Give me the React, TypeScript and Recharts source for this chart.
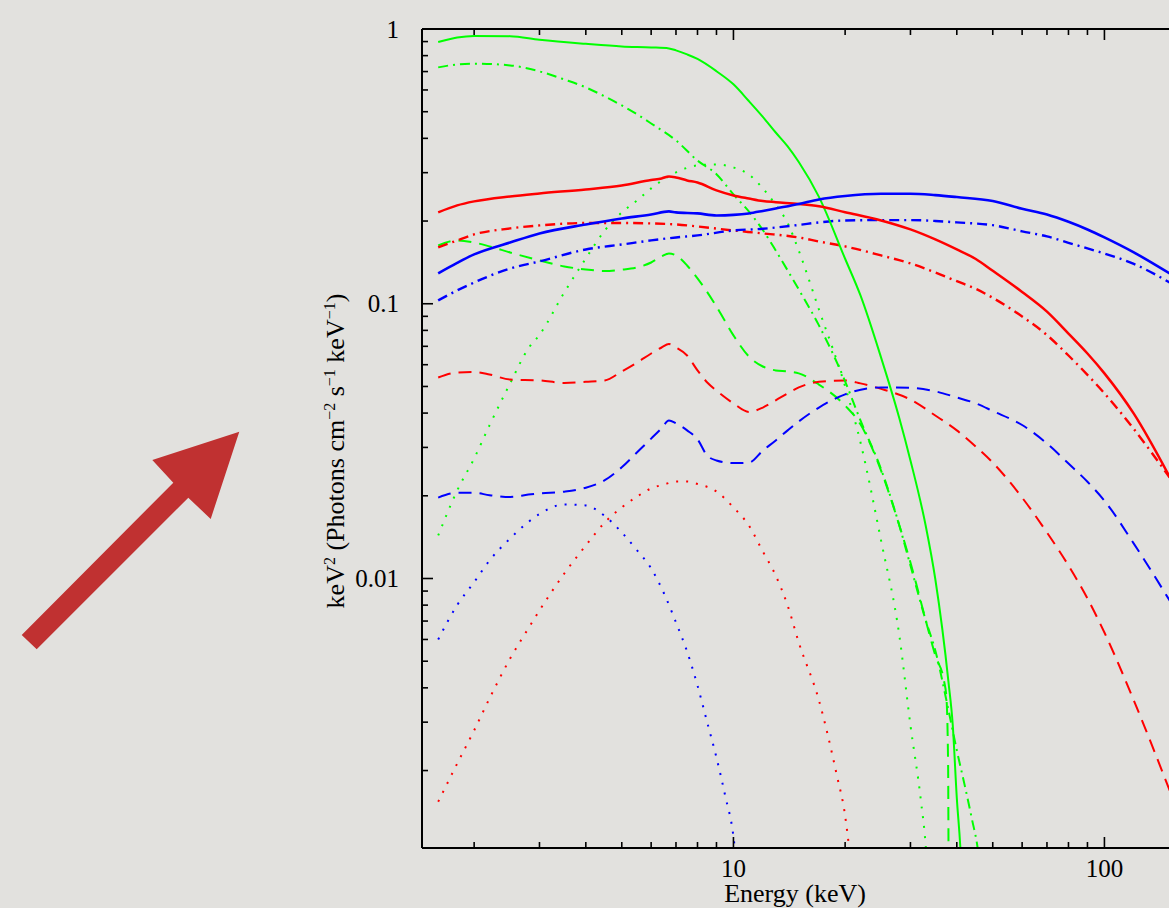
import { LineChart, Line, XAxis, YAxis } from 'recharts';

const GREEN = '#00ff00';
const RED = '#ff0000';
const BLUE = '#0000ff';
const FONT = '"Liberation Serif", "Times New Roman", serif';

const X_DOMAIN = [1.447, 149.3];
const Y_DOMAIN = [0.001045, 1];
const X_TICKS = [2, 3, 4, 5, 6, 7, 8, 9, 10, 20, 30, 40, 50, 60, 70, 80, 90, 100];
const Y_TICKS = [
  0.002, 0.003, 0.004, 0.005, 0.006, 0.007, 0.008, 0.009, 0.01,
  0.02, 0.03, 0.04, 0.05, 0.06, 0.07, 0.08, 0.09, 0.1,
  0.2, 0.3, 0.4, 0.5, 0.6, 0.7, 0.8, 0.9, 1,
];

// green
const E_GREEN_SOLID = [1.6, 1.8, 2, 2.5, 3, 4, 5, 6, 6.7, 7, 7.5, 8, 9, 10, 11, 12, 13, 14, 15, 17, 20, 22, 25, 28, 30, 33, 35, 38, 39, 40, 41, 42];
const V_GREEN_SOLID = [0.897, 0.932, 0.944, 0.942, 0.914, 0.883, 0.864, 0.857, 0.85, 0.836, 0.808, 0.778, 0.702, 0.629, 0.547, 0.479, 0.42, 0.374, 0.328, 0.245, 0.1458, 0.1072, 0.0637, 0.0383, 0.0269, 0.0155, 0.00996, 0.00418, 0.00294, 0.00159, 0.00098, 0.0004];

const E_GREEN_DASHDOT = [1.6, 1.8, 2, 2.5, 3, 3.5, 4, 4.5, 5, 5.5, 6, 7, 8, 9, 10, 11, 12, 13, 14, 15, 17, 20, 22, 25, 28, 30, 33, 35, 38, 40, 42, 44, 45.5, 47];
const V_GREEN_DASHDOT = [0.725, 0.743, 0.748, 0.737, 0.701, 0.655, 0.613, 0.568, 0.527, 0.489, 0.453, 0.393, 0.332, 0.296, 0.25, 0.2168, 0.1856, 0.1563, 0.1322, 0.1127, 0.0834, 0.0522, 0.0376, 0.025, 0.0156, 0.01115, 0.00703, 0.00547, 0.00331, 0.00237, 0.00177, 0.00132, 0.00105, 0.0007];

const E_GREEN_DASHED = [1.6, 1.8, 2, 2.2, 2.5, 3, 3.5, 4, 4.5, 5, 5.5, 6, 6.4, 6.7, 7, 7.5, 8, 9, 10, 11, 12, 13, 14, 15, 17, 20, 22, 25, 28, 30, 33, 35, 37, 37.5, 37.9, 38, 38.3];
const V_GREEN_DASHED = [0.163, 0.17, 0.167, 0.1617, 0.1537, 0.1437, 0.1367, 0.1333, 0.1316, 0.133, 0.1356, 0.1413, 0.1487, 0.1525, 0.1499, 0.1378, 0.1237, 0.0977, 0.0767, 0.0643, 0.0591, 0.0572, 0.0567, 0.0558, 0.0508, 0.0426, 0.0364, 0.0247, 0.0156, 0.01144, 0.00703, 0.00525, 0.0042, 0.0037, 0.0021, 0.001, 0.0004];

const E_GREEN_DOTTED = [1.6, 1.8, 2, 2.2, 2.5, 2.8, 3, 3.5, 4, 4.5, 5, 5.5, 6, 7, 8, 9, 10, 11, 12, 13, 14, 15, 17, 20, 22, 25, 28, 30, 32, 33, 34];
const V_GREEN_DOTTED = [0.01434, 0.0209, 0.02734, 0.0361, 0.0513, 0.0688, 0.077, 0.11, 0.1462, 0.1848, 0.215, 0.2377, 0.263, 0.3006, 0.3188, 0.3214, 0.3134, 0.2956, 0.263, 0.229, 0.1965, 0.156, 0.0953, 0.05, 0.0313, 0.01374, 0.0062, 0.00292, 0.00156, 0.00105, 0.0005];

// red
const E_RED_SOLID = [1.6, 1.8, 2, 2.5, 3, 4, 5, 6, 6.4, 6.7, 7, 7.5, 8, 9, 10, 11, 12, 13, 15, 17, 20, 25, 30, 35, 40, 45, 50, 60, 70, 80, 90, 100, 120, 150];
const V_RED_SOLID = [0.215, 0.228, 0.2358, 0.2458, 0.252, 0.2607, 0.2696, 0.2823, 0.2858, 0.2907, 0.2883, 0.2811, 0.2763, 0.2585, 0.2478, 0.2416, 0.2366, 0.2343, 0.2308, 0.2263, 0.2153, 0.201, 0.1864, 0.1714, 0.1576, 0.1455, 0.1318, 0.1104, 0.0936, 0.0779, 0.0659, 0.0558, 0.0398, 0.0234];

const E_RED_DASHDOT = [1.6, 1.8, 2, 2.5, 3, 4, 5, 6, 7, 8, 10, 12, 15, 17, 20, 25, 30, 35, 40, 45, 50, 60, 70, 80, 90, 100, 120, 150];
const V_RED_DASHDOT = [0.1603, 0.17, 0.1788, 0.188, 0.1928, 0.1968, 0.1968, 0.196, 0.1944, 0.1911, 0.1848, 0.1803, 0.1743, 0.1685, 0.1617, 0.1499, 0.1402, 0.13, 0.1208, 0.1133, 0.1051, 0.0899, 0.0769, 0.0648, 0.0551, 0.0472, 0.035, 0.0233];

const E_RED_DASHED = [1.6, 1.8, 2, 2.2, 2.5, 3, 3.5, 4, 4.5, 5, 5.5, 6, 6.4, 6.7, 7, 7.5, 8, 8.5, 9, 10, 11, 12, 13, 14, 15, 17, 20, 22, 25, 30, 35, 40, 45, 50, 60, 70, 80, 90, 100, 120, 150];
const V_RED_DASHED = [0.0539, 0.0562, 0.0564, 0.0553, 0.053, 0.0526, 0.0515, 0.052, 0.0526, 0.0567, 0.0611, 0.0659, 0.0693, 0.0714, 0.0693, 0.0648, 0.0572, 0.0517, 0.0483, 0.0434, 0.0404, 0.0419, 0.0445, 0.0472, 0.0496, 0.052, 0.0526, 0.0513, 0.049, 0.0448, 0.0392, 0.0346, 0.0302, 0.0264, 0.0197, 0.0147, 0.01115, 0.00846, 0.00636, 0.0036, 0.00169];

const E_RED_DOTTED = [1.6, 1.8, 2, 2.2, 2.5, 2.8, 3, 3.5, 4, 4.5, 5, 5.5, 6, 6.5, 7, 7.5, 8, 9, 10, 11, 12, 13, 14, 15, 17, 19, 20, 20.5, 21];
const V_RED_DOTTED = [0.00154, 0.00212, 0.0028, 0.00366, 0.00511, 0.00658, 0.00765, 0.01043, 0.01319, 0.016, 0.01814, 0.01988, 0.02127, 0.022, 0.02254, 0.02254, 0.02208, 0.02074, 0.01814, 0.0156, 0.01254, 0.01025, 0.00797, 0.00585, 0.0036, 0.00192, 0.00137, 0.00105, 0.0008];

// blue
const E_BLUE_SOLID = [1.6, 1.8, 2, 2.5, 3, 4, 5, 6, 6.7, 7, 8, 9, 10, 11, 12, 13, 15, 17, 20, 25, 30, 35, 40, 50, 60, 70, 80, 90, 100, 120, 150];
const V_BLUE_SOLID = [0.129, 0.1408, 0.1512, 0.1671, 0.1803, 0.1944, 0.2044, 0.2114, 0.2168, 0.215, 0.2132, 0.2096, 0.2106, 0.2132, 0.2177, 0.2223, 0.2308, 0.2397, 0.2468, 0.2514, 0.2514, 0.2485, 0.2445, 0.2367, 0.2218, 0.2114, 0.1988, 0.1864, 0.1744, 0.1538, 0.1288];

const E_BLUE_DASHDOT = [1.6, 1.8, 2, 2.5, 3, 4, 5, 6, 7, 8, 10, 12, 15, 17, 20, 25, 30, 35, 40, 50, 60, 70, 80, 90, 100, 120, 150];
const V_BLUE_DASHDOT = [0.1028, 0.1118, 0.1195, 0.1344, 0.1426, 0.1576, 0.1643, 0.17, 0.1743, 0.1773, 0.1848, 0.1875, 0.1936, 0.1977, 0.201, 0.2016, 0.2016, 0.2001, 0.1977, 0.1932, 0.1835, 0.1758, 0.1667, 0.159, 0.1524, 0.1396, 0.1195];

const E_BLUE_DASHED = [1.6, 1.8, 2, 2.2, 2.5, 2.8, 3, 3.5, 4, 4.5, 5, 5.5, 6, 6.4, 6.7, 7, 7.5, 8, 8.5, 9, 10, 11, 12, 13, 14, 15, 17, 20, 25, 30, 35, 40, 45, 50, 60, 70, 80, 90, 100, 120, 150];
const V_BLUE_DASHED = [0.0197, 0.0205, 0.0205, 0.0201, 0.0198, 0.0202, 0.0204, 0.0207, 0.0214, 0.0228, 0.0254, 0.0288, 0.0323, 0.0352, 0.0376, 0.0367, 0.0346, 0.0321, 0.028, 0.0269, 0.0263, 0.0264, 0.0292, 0.0318, 0.0346, 0.0373, 0.0419, 0.0468, 0.0496, 0.0494, 0.048, 0.0456, 0.0434, 0.0407, 0.0362, 0.031, 0.0262, 0.0225, 0.0192, 0.0134, 0.0083];

const E_BLUE_DOTTED = [1.6, 1.8, 2, 2.2, 2.5, 2.8, 3, 3.5, 4, 4.5, 5, 5.5, 6, 6.5, 7, 7.5, 8, 8.5, 9, 9.5, 10, 10.2, 10.5];
const V_BLUE_DOTTED = [0.006, 0.008, 0.0097, 0.01163, 0.01398, 0.01606, 0.01717, 0.0186, 0.01844, 0.01688, 0.01471, 0.01265, 0.01088, 0.00882, 0.00692, 0.00542, 0.00408, 0.00299, 0.00223, 0.00162, 0.00115, 0.0009, 0.0006];

const SOLID = undefined;
const DASHDOT = '10 5 2 5';
const DASHED = '13 8';
const DOTTED = '2 8';

const series = [
  { id: 'g-dot', e: E_GREEN_DOTTED, v: V_GREEN_DOTTED, color: GREEN, dash: DOTTED, w: 2 },
  { id: 'r-dot', e: E_RED_DOTTED, v: V_RED_DOTTED, color: RED, dash: DOTTED, w: 2 },
  { id: 'b-dot', e: E_BLUE_DOTTED, v: V_BLUE_DOTTED, color: BLUE, dash: DOTTED, w: 2 },
  { id: 'g-dash', e: E_GREEN_DASHED, v: V_GREEN_DASHED, color: GREEN, dash: DASHED, w: 2 },
  { id: 'r-dash', e: E_RED_DASHED, v: V_RED_DASHED, color: RED, dash: DASHED, w: 2 },
  { id: 'b-dash', e: E_BLUE_DASHED, v: V_BLUE_DASHED, color: BLUE, dash: DASHED, w: 2 },
  { id: 'g-dd', e: E_GREEN_DASHDOT, v: V_GREEN_DASHDOT, color: GREEN, dash: DASHDOT, w: 2 },
  { id: 'r-dd', e: E_RED_DASHDOT, v: V_RED_DASHDOT, color: RED, dash: DASHDOT, w: 2.4 },
  { id: 'b-dd', e: E_BLUE_DASHDOT, v: V_BLUE_DASHDOT, color: BLUE, dash: DASHDOT, w: 2.4 },
  { id: 'g-solid', e: E_GREEN_SOLID, v: V_GREEN_SOLID, color: GREEN, dash: SOLID, w: 2 },
  { id: 'r-solid', e: E_RED_SOLID, v: V_RED_SOLID, color: RED, dash: SOLID, w: 2.5 },
  { id: 'b-solid', e: E_BLUE_SOLID, v: V_BLUE_SOLID, color: BLUE, dash: SOLID, w: 2.6 },
];

const toPoints = (e: number[], v: number[]) => e.map((x, i) => ({ e: x, v: v[i] }));

const isMajor = (val: number) => {
  const l = Math.log10(val);
  return Math.abs(l - Math.round(l)) < 1e-6;
};

const BottomTick = (props: any) => {
  const { x, y, payload } = props;
  const major = isMajor(payload.value);
  return (
    <g>
      <line x1={x} x2={x} y1={y} y2={y - (major ? 11 : 6)} stroke="#000" strokeWidth={1.6} />
      {major && (
        <text x={x} y={y + 29} textAnchor="middle" fontSize={25} fontFamily={FONT} fill="#000">
          {payload.value}
        </text>
      )}
    </g>
  );
};

const TopTick = (props: any) => {
  const { x, y, payload } = props;
  const major = isMajor(payload.value);
  return <line x1={x} x2={x} y1={y} y2={y + (major ? 11 : 6)} stroke="#000" strokeWidth={1.6} />;
};

const LeftTick = (props: any) => {
  const { x, y, payload } = props;
  const major = isMajor(payload.value);
  return (
    <g>
      <line x1={x} x2={x + (major ? 11 : 6)} y1={y} y2={y} stroke="#000" strokeWidth={1.6} />
      {major && (
        <text x={x - 23} y={y + 8.5} textAnchor="end" fontSize={25} fontFamily={FONT} fill="#000">
          {String(payload.value)}
        </text>
      )}
    </g>
  );
};

const XTitle = () => (
  <text x={795} y={902} textAnchor="middle" fontSize={26} fontFamily={FONT} fill="#000">
    Energy (keV)
  </text>
);

const YTitle = () => (
  <text transform="translate(344,451) rotate(-90)" textAnchor="middle" fontSize={26} fontFamily={FONT} fill="#000">
    keV<tspan dy={-9} fontSize={16}>2</tspan>
    <tspan dy={9}> (Photons cm</tspan>
    <tspan dy={-9} fontSize={16}>−2</tspan>
    <tspan dy={9}> s</tspan>
    <tspan dy={-9} fontSize={16}>−1</tspan>
    <tspan dy={9}> keV</tspan>
    <tspan dy={-9} fontSize={16}>−1</tspan>
    <tspan dy={9}>)</tspan>
  </text>
);

export default function App() {
  return (
    <div
      style={{
        position: 'fixed',
        left: 0,
        top: 0,
        width: 1169,
        height: 908,
        overflow: 'hidden',
        background: '#e2e1de',
      }}
    >
      <svg width={1169} height={908} style={{ position: 'absolute', left: 0, top: 0 }}>
        <polygon
          points="21.7,635 173.3,482.7 152.3,460 239.3,431.7 210.7,519 188.3,497.7 36.7,649.3"
          fill="#c03131"
        />
      </svg>
      <div style={{ position: 'absolute', left: 0, top: 0 }}>
        <LineChart width={1169} height={908} margin={{ top: 28, right: 0, left: 0, bottom: 0 }}>
          <XAxis
            dataKey="e"
            type="number"
            scale="log"
            domain={X_DOMAIN}
            allowDataOverflow
            ticks={X_TICKS}
            interval={0}
            tick={BottomTick}
            tickLine={false}
            tickSize={0}
            tickMargin={0}
            height={60}
            axisLine={{ stroke: '#000', strokeWidth: 2 }}
            label={XTitle}
          />
          <XAxis
            xAxisId="top"
            orientation="top"
            dataKey="e"
            type="number"
            scale="log"
            domain={X_DOMAIN}
            allowDataOverflow
            ticks={X_TICKS}
            interval={0}
            tick={TopTick}
            tickLine={false}
            tickSize={0}
            tickMargin={0}
            height={1}
            axisLine={{ stroke: '#000', strokeWidth: 2 }}
          />
          <YAxis
            type="number"
            scale="log"
            domain={Y_DOMAIN}
            allowDataOverflow
            ticks={Y_TICKS}
            interval={0}
            tick={LeftTick}
            tickLine={false}
            tickSize={0}
            tickMargin={0}
            width={422}
            axisLine={{ stroke: '#000', strokeWidth: 2 }}
            label={YTitle}
          />
          {series.map((s) => (
            <Line
              key={s.id}
              data={toPoints(s.e, s.v)}
              dataKey="v"
              type="monotone"
              stroke={s.color}
              strokeWidth={s.w}
              strokeDasharray={s.dash}
              dot={false}
              activeDot={false}
              isAnimationActive={false}
            />
          ))}
        </LineChart>
      </div>
    </div>
  );
}
